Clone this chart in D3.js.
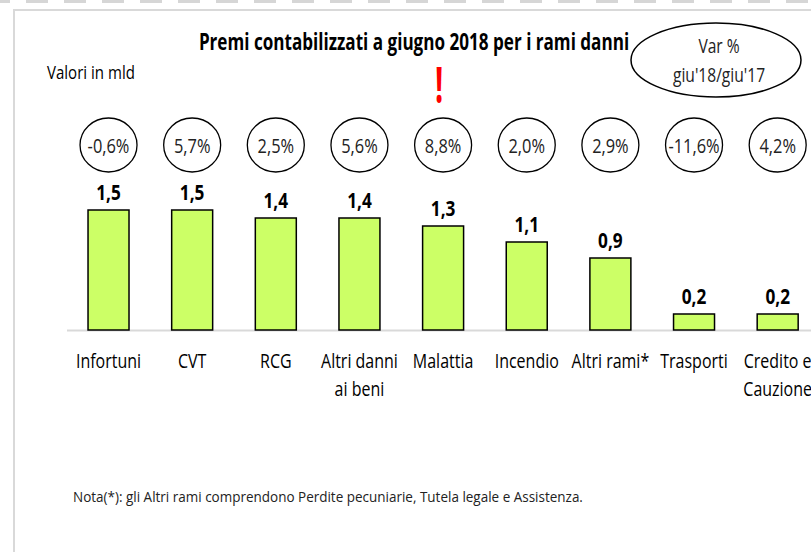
<!DOCTYPE html>
<html><head><meta charset="utf-8">
<script src="https://cdn.jsdelivr.net/npm/d3@7"></script>
<style>
html,body{margin:0;padding:0;background:#fff;overflow:hidden;}
text{font-family:"Open Sans","Liberation Sans",sans-serif;}
</style></head>
<body>
<svg id="chart" width="811" height="552"></svg>
<script>
const categories = [["Infortuni"],["CVT"],["RCG"],["Altri danni","ai beni"],["Malattia"],["Incendio"],["Altri rami*"],["Trasporti"],["Credito e","Cauzione"]];
const values = [1.5,1.5,1.4,1.4,1.3,1.1,0.9,0.2,0.2];
const variations = ["-0,6%","5,7%","2,5%","5,6%","8,8%","2,0%","2,9%","-11,6%","4,2%"];
const title = "Premi contabilizzati a giugno 2018 per i rami danni";
const unitLabel = "Valori in mld";
const legendLines = ["Var %","giu'18/giu'17"];
const note = "Nota(*): gli Altri rami comprendono Perdite pecuniarie, Tutela legale e Assistenza.";

const svg = d3.select("#chart");
const keys = categories.map((c,i)=>i);
const tr = (x,y,sx,sy=1)=>`translate(${x},${y}) scale(${sx},${sy})`;

// frame
svg.append("line").attr("x1",0).attr("x2",811).attr("y1",1.5).attr("y2",1.5)
  .attr("stroke","#d6d6d6").attr("stroke-width",3).attr("stroke-dasharray","22,16").attr("stroke-dashoffset",12);
svg.append("path").attr("d","M14,552 V10 H811").attr("fill","none").attr("stroke","#d9d9d9").attr("stroke-width",2);

const x = d3.scaleBand().domain(keys).range([66.7,819.5]).paddingInner(0.51).paddingOuter(0.255);
const y = d3.scaleLinear().domain([0,1.5]).range([330,210]);
const cx = i => x(i)+x.bandwidth()/2;

// baseline
svg.append("line").attr("x1",67).attr("x2",811).attr("y1",y(0)+0.5).attr("y2",y(0)+0.5)
  .attr("stroke","#d9d9d9").attr("stroke-width",2);

// bars
svg.selectAll("rect.bar").data(values).join("rect").attr("class","bar")
  .attr("x",(d,i)=>x(i)).attr("width",x.bandwidth())
  .attr("y",d=>y(d)).attr("height",d=>y(0)-y(d))
  .attr("fill","#ccff66").attr("stroke","#000").attr("stroke-width",1.5);

// value labels
svg.selectAll("text.val").data(values).join("text").attr("class","val")
  .attr("transform",(d,i)=>tr(cx(i),y(d)-10,0.84))
  .attr("text-anchor","middle").attr("font-size",20.5).attr("font-weight","bold").attr("fill","#000")
  .text(d=>d.toFixed(1).replace(".",","));

// variation ellipses
const vg = svg.selectAll("g.var").data(variations).join("g").attr("class","var")
  .attr("transform",(d,i)=>`translate(${cx(i)},145)`);
vg.append("ellipse").attr("rx",28.5).attr("ry",27).attr("fill","#fff").attr("stroke","#000").attr("stroke-width",1.3);
vg.append("text").attr("transform",tr(0,7.5,0.8)).attr("text-anchor","middle")
  .attr("font-size",20.5).attr("fill","#222").text(d=>d);

// category labels
categories.forEach((lines,i)=>{
  lines.forEach((ln,j)=>{
    svg.append("text").attr("transform",tr(cx(i),368+j*28,0.82))
      .attr("text-anchor","middle").attr("font-size",19.5).attr("fill","#000").text(ln);
  });
});

// title
svg.append("text").attr("transform",tr(414,50,0.76)).attr("text-anchor","middle")
  .attr("font-size",22.5).attr("font-weight","bold").attr("fill","#000").text(title);
svg.append("text").attr("transform",tr(47,79,0.86)).attr("font-size",17.5).attr("fill","#000").text(unitLabel);
svg.append("text").attr("transform",tr(439,103,0.9,1.55)).attr("text-anchor","middle")
  .attr("font-size",32).attr("font-weight","bold").attr("fill","#ff0000").text("!");

// legend ellipse
svg.append("ellipse").attr("cx",716).attr("cy",60).attr("rx",85).attr("ry",37)
  .attr("fill","#fff").attr("stroke","#000").attr("stroke-width",1.5);
legendLines.forEach((ln,i)=>{
  svg.append("text").attr("transform",tr(719,53+i*29,0.8)).attr("text-anchor","middle")
    .attr("font-size",19.5).attr("fill","#222").text(ln);
});

// note
svg.append("text").attr("transform",tr(73,502,0.9)).attr("font-size",15).attr("fill","#222").text(note);
</script>
</body></html>
